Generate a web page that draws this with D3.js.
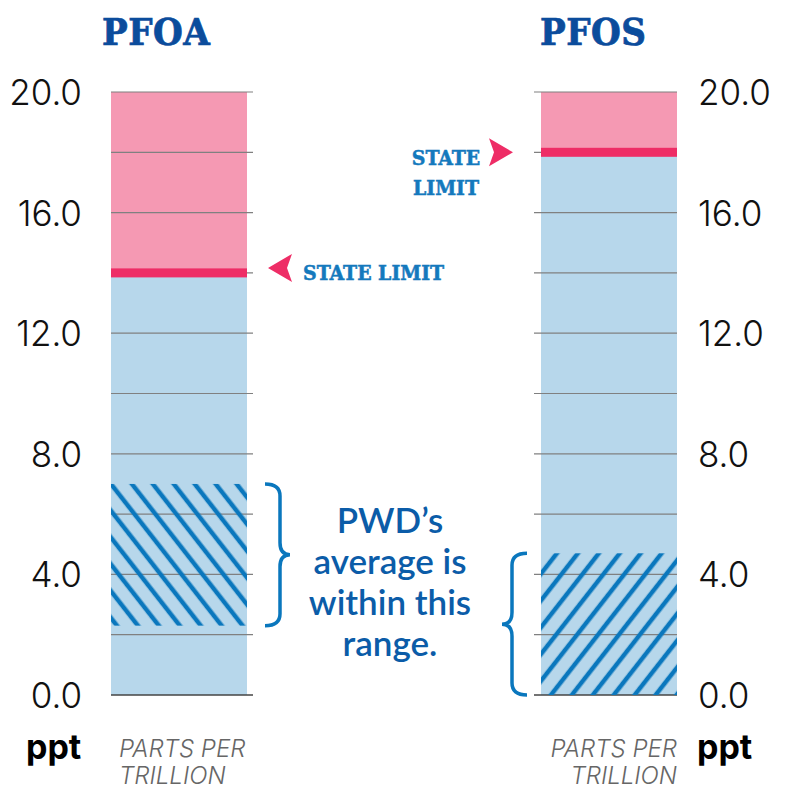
<!DOCTYPE html>
<html>
<head>
<meta charset="utf-8">
<script src="https://cdn.jsdelivr.net/npm/d3@7"></script>
<style>
  body { margin: 0; background: #fff; }
  svg { display: block; }
</style>
</head>
<body>
<div id="chart"></div>
<script>
// Chart data
const chemicals = ['PFOA', 'PFOS'];
const stateLimits = [14.0, 18.0];
const rangeLow = [2.3, 0.0];
const rangeHigh = [7.0, 4.7];
const gridTicks = [0, 2, 4, 6, 8, 10, 12, 14, 16, 18, 20];
const labelTicks = [0, 4, 8, 12, 16, 20];
const noteLines = ['PWD\u2019s', 'average is', 'within this', 'range.'];

const width = 795;
const height = 805;

const svg = d3
  .select('#chart')
  .append('svg')
  .attr('width', width)
  .attr('height', height);

// Shared y scale
const y = d3.scaleLinear().domain([0, 20]).range([695, 92]);

// Bar positions
const x = d3.scaleOrdinal().domain(chemicals).range([111, 541]);
const barW = 136;

const pink = '#f599b3';
const limitRed = '#ee2d66';
const lightBlue = '#b7d7eb';
const hatchBlue = '#0a77bd';
const titleBlue = '#0b4c9c';
const labelBlue = '#1479bd';
const slabFont = '"DejaVu Serif Condensed", "DejaVu Serif", serif';
const sansFont = 'Inter, "Open Sans", sans-serif';

// Hatch patterns
const defs = svg.append('defs');
[
  ['hatchBack', -38],
  ['hatchFwd', 38],
].forEach(([id, ang]) => {
  defs
    .append('pattern')
    .attr('id', id)
    .attr('patternUnits', 'userSpaceOnUse')
    .attr('width', 16.5)
    .attr('height', 16.5)
    .attr('patternTransform', 'rotate(' + ang + ')')
    .append('line')
    .attr('x1', 4)
    .attr('x2', 4)
    .attr('y1', -2)
    .attr('y2', 19)
    .attr('stroke', hatchBlue)
    .attr('stroke-width', 4.5);
});

chemicals.forEach((name, i) => {
  const x0 = x(name);
  const g = svg.append('g');

  // Blue base below the limit
  g.append('rect')
    .attr('x', x0)
    .attr('y', y(stateLimits[i]))
    .attr('width', barW)
    .attr('height', y(0) - y(stateLimits[i]))
    .attr('fill', lightBlue);

  // Pink above the limit
  g.append('rect')
    .attr('x', x0)
    .attr('y', y(20))
    .attr('width', barW)
    .attr('height', y(stateLimits[i]) - y(20))
    .attr('fill', pink);

  // Grid lines
  const gx1 = i === 0 ? x0 : x0 - 7;
  const gx2 = i === 0 ? x0 + barW + 6 : x0 + barW;
  g.selectAll('.grid')
    .data(gridTicks)
    .enter()
    .append('line')
    .attr('x1', gx1)
    .attr('x2', gx2)
    .attr('y1', (d) => y(d))
    .attr('y2', (d) => y(d))
    .attr('stroke', (d) => (d === 0 ? '#444' : '#808080'))
    .attr('stroke-width', (d) => (d === 0 ? 1.6 : 1.2));

  // Hatched range
  g.append('rect')
    .attr('x', x0)
    .attr('y', y(rangeHigh[i]))
    .attr('width', barW)
    .attr('height', y(rangeLow[i]) - y(rangeHigh[i]))
    .attr('fill', i === 0 ? 'url(#hatchBack)' : 'url(#hatchFwd)');

  // State limit band
  g.append('rect')
    .attr('x', x0)
    .attr('y', y(stateLimits[i]) - 4.5)
    .attr('width', barW)
    .attr('height', 9)
    .attr('fill', limitRed);

  // Title
  svg
    .append('text')
    .attr('x', i === 0 ? x0 - 9 : x0 - 1)
    .attr('y', 45)
    .attr('font-family', slabFont)
    .attr('font-weight', 'bold')
    .attr('font-size', 38)
    .attr('letter-spacing', 0.5)
    .attr('fill', titleBlue)
    .attr('stroke', titleBlue)
    .attr('stroke-width', 0.7)
    .text(name);

  // Axis labels
  const lx = i === 0 ? 82 : 698;
  svg
    .selectAll('.lab' + i)
    .data(labelTicks)
    .enter()
    .append('text')
    .attr('x', lx)
    .attr('y', (d) => y(d) + 13)
    .attr('text-anchor', i === 0 ? 'end' : 'start')
    .attr('font-family', sansFont)
    .attr('font-weight', 300)
    .attr('font-size', 35)
    .attr('fill', '#111')
    .text((d) => d3.format('.1f')(d));

  // Unit labels
  svg
    .append('text')
    .attr('x', i === 0 ? 26 : 697)
    .attr('y', 759)
    .attr('font-family', sansFont)
    .attr('font-weight', 'bold')
    .attr('font-size', 34)
    .attr('fill', '#000')
    .text('ppt');

  const ux = i === 0 ? x0 + 8 : x0 + barW;
  ['PARTS PER', 'TRILLION'].forEach((t, k) => {
    svg
      .append('text')
      .attr('x', ux)
      .attr('y', 757 + k * 27)
      .attr('text-anchor', i === 0 ? 'start' : 'end')
      .attr('font-family', sansFont)
      .attr('font-style', 'italic')
      .attr('font-weight', 300)
      .attr('font-size', 24)
      .attr('fill', '#666')
      .text(t);
  });
});

// Curly brace path
function brace(xEnd, y0, y1, w, dir) {
  const xs = xEnd + dir * w * 0.6;
  const xp = xEnd + dir * w;
  const ym = (y0 + y1) / 2;
  const r = 12;
  return (
    'M' + xEnd + ',' + y0 +
    ' Q' + xs + ',' + y0 + ' ' + xs + ',' + (y0 + r) +
    ' L' + xs + ',' + (ym - r) +
    ' Q' + xs + ',' + ym + ' ' + xp + ',' + ym +
    ' Q' + xs + ',' + ym + ' ' + xs + ',' + (ym + r) +
    ' L' + xs + ',' + (y1 - r) +
    ' Q' + xs + ',' + y1 + ' ' + xEnd + ',' + y1
  );
}

svg
  .append('path')
  .attr('d', brace(265, y(rangeHigh[0]), y(rangeLow[0]), 25, 1))
  .attr('fill', 'none')
  .attr('stroke', hatchBlue)
  .attr('stroke-width', 3.5);

svg
  .append('path')
  .attr('d', brace(527, y(rangeHigh[1]), y(rangeLow[1]), 25, -1))
  .attr('fill', 'none')
  .attr('stroke', hatchBlue)
  .attr('stroke-width', 3.5);

// Note text
svg
  .selectAll('.note')
  .data(noteLines)
  .enter()
  .append('text')
  .attr('x', 390)
  .attr('y', (d, k) => 533 + k * 41)
  .attr('text-anchor', 'middle')
  .attr('font-family', 'Lato, sans-serif')
  .attr('font-weight', 600)
  .attr('font-size', 35)
  .attr('fill', '#0b5ca8')
  .text((d) => d);

// State limit arrows
function arrow(tx, ty, dir) {
  const bx = tx + dir * 24;
  const nx = tx + dir * 19;
  return 'M' + tx + ',' + ty + ' L' + bx + ',' + (ty - 14) + ' L' + nx + ',' + ty +
    ' L' + bx + ',' + (ty + 14) + ' Z';
}

svg
  .append('path')
  .attr('d', arrow(268, y(stateLimits[0]) - 5, 1))
  .attr('fill', limitRed);

svg
  .append('path')
  .attr('d', arrow(513, y(stateLimits[1]), -1))
  .attr('fill', limitRed);

svg
  .append('text')
  .attr('x', 303)
  .attr('y', 280)
  .attr('font-family', slabFont)
  .attr('font-weight', 'bold')
  .attr('font-size', 21)
  .attr('fill', labelBlue)
  .attr('stroke', labelBlue)
  .attr('stroke-width', 0.5)
  .text('STATE LIMIT');

['STATE', 'LIMIT'].forEach((t, k) => {
  svg
    .append('text')
    .attr('x', 446)
    .attr('y', 165 + k * 30)
    .attr('text-anchor', 'middle')
    .attr('font-family', slabFont)
    .attr('font-weight', 'bold')
    .attr('font-size', 21)
    .attr('fill', labelBlue)
    .attr('stroke', labelBlue)
    .attr('stroke-width', 0.5)
    .text(t);
});
</script>
</body>
</html>
